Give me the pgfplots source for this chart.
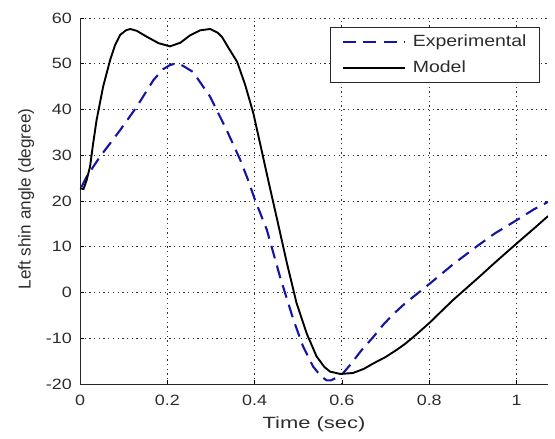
\documentclass[border=0pt]{standalone}
\usepackage{fontspec}
\setmainfont{Liberation Sans}
\newfontfamily\tickfont[FakeStretch=1.2]{Liberation Sans}
\newfontfamily\xlabfont[FakeStretch=1.35]{Liberation Sans}
\usepackage{pgfplots}
\pgfplotsset{compat=1.18}
\definecolor{expblue}{RGB}{20,20,165}
\definecolor{txt}{RGB}{45,45,45}
\begin{document}
\begin{tikzpicture}
\begin{axis}[
  name=ax,
  scale only axis,
  width=468bp, height=366bp,
  xmin=0, xmax=1.072, ymin=-20, ymax=60,
  axis x line*=bottom, axis y line*=left,
  axis line style={line width=0.9bp, black!85},
  xtick={0,0.2,0.4,0.6,0.8,1},
  xticklabels={0,0.2,0.4,0.6,0.8,1},
  ytick={-20,-10,0,10,20,30,40,50,60},
  tick align=inside,
  major tick length=4bp,
  tick style={black, line width=0.6bp},
  grid=major,
  major grid style={black!80, dash pattern=on 1.3bp off 3.4bp, line width=0.9bp},
  /pgf/number format/assume math mode=true,
  tick label style={font=\tickfont\fontsize{15}{17}\selectfont, text=txt, inner sep=0pt},
  xticklabel style={anchor=north, yshift=-11bp},
  yticklabel style={anchor=east, xshift=-8bp},
  xlabel={Time (sec)},
  ylabel={Left shin angle (degree)},
  xlabel style={font=\xlabfont\fontsize{16.3}{18}\selectfont, text=txt,
    at={(rel axis cs:0.5,0)}, anchor=north, yshift=-33bp, inner sep=0pt},
  ylabel style={font=\fontsize{17.2}{19}\selectfont, text=txt,
    at={(rel axis cs:0,0.5)}, anchor=north, yshift=62bp, xshift=2bp, inner sep=0pt},
  legend style={at={(rel axis cs:0.9829,0.9754)}, anchor=north east,
    font=\tickfont\fontsize{16.3}{18}\selectfont, text=txt, draw=black!85, line width=0.9bp,
    fill=white, inner xsep=9bp, inner ysep=3.7bp, row sep=5bp, column sep=3bp,
    nodes={inner xsep=4bp, inner ysep=3bp, text height=12bp, text depth=3.5bp}},
  legend cell align=left,
  legend image code/.code={\path (0bp,0bp); \draw[#1] (2bp,0bp) -- (64bp,0bp);},
]
\addplot[expblue, line width=2.1bp, dash pattern=on 13bp off 7.5bp] coordinates {
(0.003,23.0) (0.015,25.3) (0.046,29.7) (0.092,35.5) (0.13,40.6) (0.168,46.4)
(0.19,48.8) (0.206,49.7) (0.22,50.1) (0.235,49.6) (0.259,48.2) (0.298,42.8)
(0.336,35.5) (0.367,29.0) (0.385,24.6) (0.401,20.2) (0.428,13.7) (0.458,3.5)
(0.489,-6.0) (0.511,-11.8) (0.534,-16.2) (0.552,-18.3) (0.565,-19.2) (0.575,-19.2)
(0.59,-18.5) (0.603,-17.6) (0.619,-15.8) (0.645,-12.6) (0.672,-9.7) (0.695,-7.0)
(0.718,-4.7) (0.742,-2.6) (0.764,-0.9) (0.802,2.0) (0.855,6.2) (0.912,10.3)
(0.95,12.9) (1.0,15.8) (1.04,18.2) (1.072,19.8)
};
\addlegendentry{Experimental}
\addplot[black, line width=1.9bp] coordinates {
(0,22.8) (0.008,22.6) (0.015,24.5) (0.023,27.5) (0.03,32.5) (0.038,37.7) (0.053,45.0)
(0.069,50.8) (0.08,54.0) (0.092,56.3) (0.105,57.3) (0.115,57.6) (0.13,57.2)
(0.153,55.9) (0.18,54.5) (0.206,53.8) (0.23,54.6) (0.252,56.2) (0.275,57.3)
(0.298,57.6) (0.315,56.8) (0.325,55.9) (0.34,53.5) (0.36,50.4) (0.378,45.5)
(0.397,39.2) (0.415,31.5) (0.431,24.6) (0.45,16.6) (0.474,6.4) (0.496,-2.3)
(0.519,-8.9) (0.542,-14.0) (0.56,-16.3) (0.573,-17.3) (0.596,-17.8) (0.625,-17.6)
(0.65,-16.7) (0.672,-15.5) (0.7,-14.1) (0.726,-12.5) (0.745,-11.2) (0.764,-9.7)
(0.782,-8.2) (0.802,-6.5) (0.83,-3.9) (0.855,-1.6) (0.912,3.2) (0.95,6.5)
(1.0,10.7) (1.04,14.0) (1.072,16.7)
};
\addlegendentry{Model}
\end{axis}
\pgfresetboundingbox
\path ([xshift=-80bp,yshift=-55bp]ax.south west) rectangle ([xshift=7bp,yshift=18bp]ax.north east);
\end{tikzpicture}
\end{document}
